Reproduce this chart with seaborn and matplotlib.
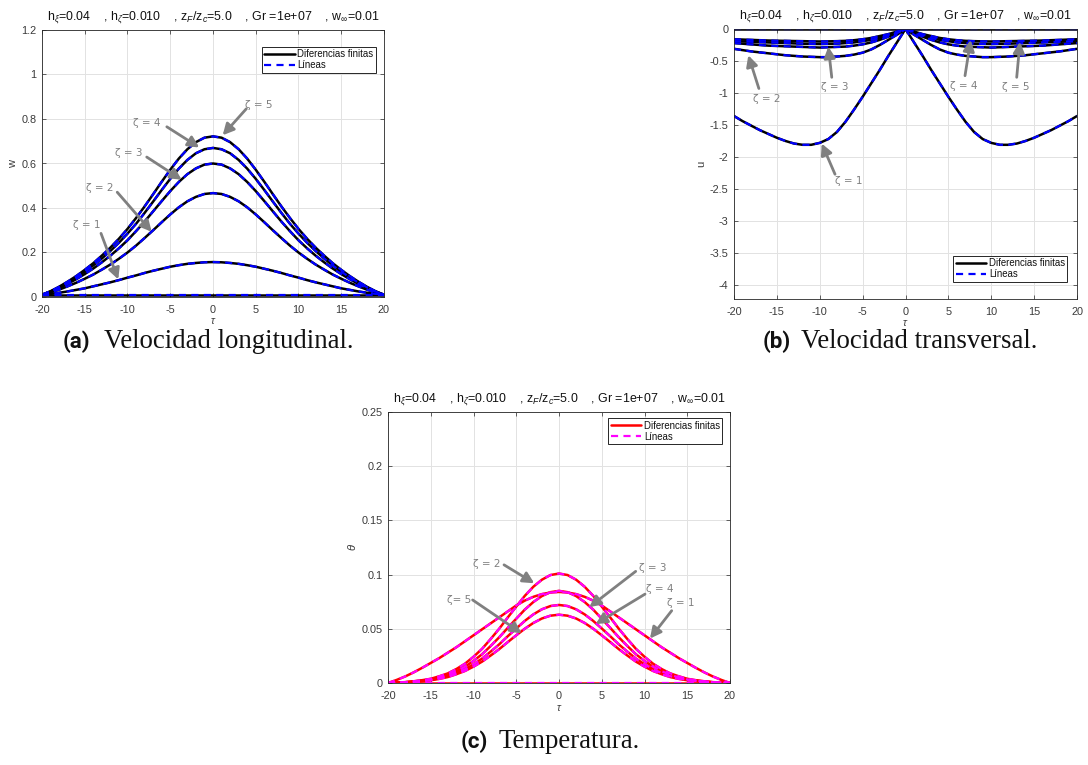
import matplotlib
matplotlib.use("Agg")
import matplotlib.pyplot as plt
import seaborn as sns

# ---------------- data ----------------
tau = [-20, -19, -18, -17, -16, -15, -14, -13, -12, -11, -10, -9, -8, -7, -6, -5, -4, -3, -2, -1,
       0, 1, 2, 3, 4, 5, 6, 7, 8, 9, 10, 11, 12, 13, 14, 15, 16, 17, 18, 19, 20]

# (a) longitudinal velocity w
w_z0 = [0.01] * 41
w_z1 = [0.010, 0.014, 0.019, 0.025, 0.032, 0.039, 0.048, 0.057, 0.066, 0.076, 0.087,
        0.097, 0.108, 0.118, 0.127, 0.136, 0.143, 0.149, 0.153, 0.156, 0.157,
        0.156, 0.153, 0.149, 0.143, 0.136, 0.127, 0.118, 0.108, 0.097, 0.087,
        0.076, 0.066, 0.057, 0.048, 0.039, 0.032, 0.025, 0.019, 0.014, 0.010]
w_z2 = [0.010, 0.021, 0.033, 0.048, 0.064, 0.082, 0.101, 0.123, 0.146, 0.172, 0.200,
        0.231, 0.265, 0.300, 0.336, 0.371, 0.403, 0.430, 0.450, 0.463, 0.467,
        0.463, 0.450, 0.430, 0.403, 0.371, 0.336, 0.300, 0.265, 0.231, 0.200,
        0.172, 0.146, 0.123, 0.101, 0.082, 0.064, 0.048, 0.033, 0.021, 0.010]
w_z3 = [0.010, 0.024, 0.040, 0.059, 0.080, 0.103, 0.128, 0.156, 0.186, 0.219, 0.255,
        0.296, 0.339, 0.385, 0.431, 0.476, 0.517, 0.552, 0.578, 0.595, 0.600,
        0.595, 0.578, 0.552, 0.517, 0.476, 0.431, 0.385, 0.339, 0.296, 0.255,
        0.219, 0.186, 0.156, 0.128, 0.103, 0.080, 0.059, 0.040, 0.024, 0.010]
w_z4 = [0.010, 0.025, 0.044, 0.065, 0.088, 0.114, 0.142, 0.173, 0.207, 0.244, 0.285,
        0.329, 0.378, 0.429, 0.481, 0.531, 0.577, 0.616, 0.646, 0.664, 0.670,
        0.664, 0.646, 0.616, 0.577, 0.531, 0.481, 0.429, 0.378, 0.329, 0.285,
        0.244, 0.207, 0.173, 0.142, 0.114, 0.088, 0.065, 0.044, 0.025, 0.010]
w_z5 = [0.010, 0.026, 0.046, 0.069, 0.094, 0.122, 0.152, 0.186, 0.222, 0.262, 0.306,
        0.355, 0.407, 0.462, 0.518, 0.572, 0.622, 0.664, 0.696, 0.716, 0.722,
        0.716, 0.696, 0.664, 0.622, 0.572, 0.518, 0.462, 0.407, 0.355, 0.306,
        0.262, 0.222, 0.186, 0.152, 0.122, 0.094, 0.069, 0.046, 0.026, 0.010]

# (b) transversal velocity u
u_z0 = [0.0] * 41
u_z1 = [-1.36, -1.44, -1.51, -1.58, -1.64, -1.70, -1.75, -1.79, -1.81, -1.81, -1.78,
        -1.72, -1.61, -1.45, -1.26, -1.06, -0.85, -0.64, -0.42, -0.21, 0.0,
        -0.21, -0.42, -0.64, -0.85, -1.06, -1.26, -1.45, -1.61, -1.72, -1.78,
        -1.81, -1.81, -1.79, -1.75, -1.70, -1.64, -1.58, -1.51, -1.44, -1.36]
u_z2 = [-0.31, -0.33, -0.35, -0.365, -0.38, -0.395, -0.41, -0.42, -0.43, -0.435, -0.44,
        -0.44, -0.43, -0.42, -0.40, -0.37, -0.32, -0.25, -0.17, -0.09, 0.0,
        -0.09, -0.17, -0.25, -0.32, -0.37, -0.40, -0.42, -0.43, -0.44, -0.44,
        -0.435, -0.43, -0.42, -0.41, -0.395, -0.38, -0.365, -0.35, -0.33, -0.31]
u_z3 = [-0.22, -0.23, -0.24, -0.25, -0.26, -0.265, -0.27, -0.275, -0.28, -0.285, -0.29,
        -0.285, -0.28, -0.275, -0.26, -0.24, -0.21, -0.17, -0.12, -0.065, 0.0,
        -0.065, -0.12, -0.17, -0.21, -0.24, -0.26, -0.275, -0.28, -0.285, -0.29,
        -0.285, -0.28, -0.275, -0.27, -0.265, -0.26, -0.25, -0.24, -0.23, -0.22]
u_z4 = [-0.19, -0.195, -0.20, -0.205, -0.21, -0.215, -0.22, -0.225, -0.23, -0.233, -0.235,
        -0.233, -0.23, -0.22, -0.21, -0.19, -0.17, -0.14, -0.10, -0.05, 0.0,
        -0.05, -0.10, -0.14, -0.17, -0.19, -0.21, -0.22, -0.23, -0.233, -0.235,
        -0.233, -0.23, -0.225, -0.22, -0.215, -0.21, -0.205, -0.20, -0.195, -0.19]
u_z5 = [-0.16, -0.165, -0.17, -0.175, -0.18, -0.183, -0.185, -0.188, -0.19, -0.193, -0.195,
        -0.193, -0.19, -0.185, -0.175, -0.16, -0.14, -0.11, -0.08, -0.04, 0.0,
        -0.04, -0.08, -0.11, -0.14, -0.16, -0.175, -0.185, -0.19, -0.193, -0.195,
        -0.193, -0.19, -0.188, -0.185, -0.183, -0.18, -0.175, -0.17, -0.165, -0.16]

# (c) temperature theta
t_z0 = [0.0] * 41
t_z1 = [0.0, 0.0028, 0.006, 0.0098, 0.014, 0.0185, 0.023, 0.028, 0.033, 0.0385, 0.044,
        0.0495, 0.055, 0.0605, 0.066, 0.0715, 0.076, 0.0795, 0.082, 0.0835, 0.084,
        0.0835, 0.082, 0.0795, 0.076, 0.0715, 0.066, 0.0605, 0.055, 0.0495, 0.044,
        0.0385, 0.033, 0.028, 0.023, 0.0185, 0.014, 0.0098, 0.006, 0.0028, 0.0]
t_z2 = [0.0, 0.0004, 0.0008, 0.0016, 0.0026, 0.0039, 0.0062, 0.0089, 0.0129, 0.0178, 0.0242,
        0.0315, 0.0405, 0.0500, 0.0604, 0.0705, 0.0804, 0.0888, 0.0953, 0.0996, 0.1010,
        0.0996, 0.0953, 0.0888, 0.0804, 0.0705, 0.0604, 0.0500, 0.0405, 0.0315, 0.0242,
        0.0178, 0.0129, 0.0089, 0.0062, 0.0039, 0.0026, 0.0016, 0.0008, 0.0004, 0.0]
t_z3 = [0.0, 0.0003, 0.0007, 0.0014, 0.0022, 0.0033, 0.0052, 0.0075, 0.0109, 0.0150, 0.0204,
        0.0265, 0.0341, 0.0421, 0.0508, 0.0593, 0.0677, 0.0747, 0.0802, 0.0838, 0.0850,
        0.0838, 0.0802, 0.0747, 0.0677, 0.0593, 0.0508, 0.0421, 0.0341, 0.0265, 0.0204,
        0.0150, 0.0109, 0.0075, 0.0052, 0.0033, 0.0022, 0.0014, 0.0007, 0.0003, 0.0]
t_z4 = [0.0, 0.0003, 0.0006, 0.0012, 0.0019, 0.0028, 0.0044, 0.0063, 0.0092, 0.0127, 0.0173,
        0.0225, 0.0289, 0.0356, 0.0431, 0.0503, 0.0573, 0.0633, 0.0680, 0.0710, 0.0720,
        0.0710, 0.0680, 0.0633, 0.0573, 0.0503, 0.0431, 0.0356, 0.0289, 0.0225, 0.0173,
        0.0127, 0.0092, 0.0063, 0.0044, 0.0028, 0.0019, 0.0012, 0.0006, 0.0003, 0.0]
t_z5 = [0.0, 0.0002, 0.0005, 0.0010, 0.0016, 0.0025, 0.0038, 0.0055, 0.0081, 0.0111, 0.0151,
        0.0197, 0.0253, 0.0312, 0.0377, 0.0440, 0.0501, 0.0554, 0.0595, 0.0621, 0.0630,
        0.0621, 0.0595, 0.0554, 0.0501, 0.0440, 0.0377, 0.0312, 0.0253, 0.0197, 0.0151,
        0.0111, 0.0081, 0.0055, 0.0038, 0.0025, 0.0016, 0.0010, 0.0005, 0.0002, 0.0]

x_ticks = [-20, -15, -10, -5, 0, 5, 10, 15, 20]
x_ticklabels = ["-20", "-15", "-10", "-5", "0", "5", "10", "15", "20"]
w_ticks = [0, 0.2, 0.4, 0.6, 0.8, 1.0, 1.2]
w_ticklabels = ["0", "0.2", "0.4", "0.6", "0.8", "1", "1.2"]
u_ticks = [0, -0.5, -1, -1.5, -2, -2.5, -3, -3.5, -4]
u_ticklabels = ["0", "-0.5", "-1", "-1.5", "-2", "-2.5", "-3", "-3.5", "-4"]
t_ticks = [0, 0.05, 0.1, 0.15, 0.2, 0.25]
t_ticklabels = ["0", "0.05", "0.1", "0.15", "0.2", "0.25"]

legend_labels = ["Diferencias finitas", "Líneas"]
title_txt = (r"h$_\xi$=0.04    , h$_\zeta$=0.010    , z$_F$/z$_c$=5.0    , "
             r"Gr =1e+07    , w$_\infty$=0.01")

# annotations: (label, label_xy, arrow_start, arrow_tip)
ann_a = [("ζ = 5", (5.3, 0.865), (3.9, 0.846), (1.13, 0.727)),
         ("ζ = 4", (-7.7, 0.78), (-5.4, 0.765), (-1.6, 0.672)),
         ("ζ = 3", (-9.9, 0.645), (-7.75, 0.629), (-3.66, 0.527)),
         ("ζ = 2", (-13.3, 0.49), (-11.2, 0.471), (-7.17, 0.293)),
         ("ζ = 1", (-14.8, 0.323), (-13.1, 0.286), (-11.08, 0.079))]
ann_b = [("ζ = 2", (-16.2, -1.10), (-17.1, -0.93), (-18.33, -0.41)),
         ("ζ = 3", (-8.3, -0.91), (-8.6, -0.755), (-9.0, -0.277)),
         ("ζ = 4", (6.8, -0.89), (6.94, -0.73), (7.6, -0.17)),
         ("ζ = 5", (12.9, -0.91), (12.97, -0.755), (13.35, -0.2)),
         ("ζ = 1", (-6.6, -2.37), (-8.22, -2.27), (-9.77, -1.79))]
ann_c = [("ζ = 2", (-8.46, 0.110), (-6.43, 0.109), (-2.89, 0.092)),
         ("ζ = 3", (11.0, 0.106), (8.97, 0.103), (3.55, 0.070)),
         ("ζ = 4", (11.74, 0.0864), (10.06, 0.082), (4.29, 0.0544)),
         ("ζ = 1", (14.23, 0.0735), (13.18, 0.0667), (10.64, 0.041)),
         ("ζ= 5", (-11.7, 0.077), (-10.1, 0.0766), (-4.36, 0.0458))]

# ---------------- style ----------------
sns.set_theme(style="whitegrid")
plt.rcParams["font.family"] = ["Liberation Sans", "DejaVu Sans"]
plt.rcParams["mathtext.fontset"] = "custom"
plt.rcParams["mathtext.rm"] = "Liberation Sans"
plt.rcParams["mathtext.it"] = "Liberation Sans:italic"
plt.rcParams["mathtext.bf"] = "Liberation Sans:bold"

AX_COL = "#262626"
TXT_COL = "#3a3a3a"
GRID_COL = "#e2e2e2"
ANN_COL = "#808080"

fig = plt.figure(figsize=(10.88, 7.65), dpi=100)
fig.patch.set_facecolor("white")


def draw_panel(rect, curves, solid_col, dash_col, ylim, yticks, yticklabels,
               ylabel, ylab_x, xlab_y, legend_loc, legend_anchor, anns):
    ax = fig.add_axes(rect)
    ax.set_facecolor("white")
    solid, dashed = [], []
    for ys in curves:
        sns.lineplot(x=tau, y=ys, ax=ax, color=solid_col, lw=1.8,
                     estimator=None, sort=False, legend=False)
        solid.append(ax.get_lines()[-1])
    for ys in curves:
        sns.lineplot(x=tau, y=ys, ax=ax, color=dash_col, lw=1.6,
                     estimator=None, sort=False, legend=False)
        ln = ax.get_lines()[-1]
        ln.set_linestyle((0, (3.2, 2.4)))
        dashed.append(ln)
    ax.set_xlim(-20, 20)
    ax.set_ylim(*ylim)
    ax.set_xticks(x_ticks)
    ax.set_xticklabels(x_ticklabels)
    ax.set_yticks(yticks)
    ax.set_yticklabels(yticklabels)
    ax.grid(True, color=GRID_COL, lw=0.7)
    for sp in ax.spines.values():
        sp.set_visible(True)
        sp.set_color(AX_COL)
        sp.set_linewidth(0.6)
    ax.tick_params(direction="in", length=3, width=0.5, color=AX_COL,
                   labelcolor=TXT_COL, labelsize=7.8, top=True, right=True,
                   bottom=True, left=True)
    ax.tick_params(axis="x", pad=6)
    ax.tick_params(axis="y", pad=4)
    ax.set_xlabel(r"$\tau$", fontsize=7.5, color=TXT_COL)
    ax.xaxis.set_label_coords(0.5, xlab_y)
    ax.set_ylabel(ylabel, fontsize=8, color=TXT_COL)
    ax.yaxis.set_label_coords(ylab_x, 0.5)
    ax.set_title(title_txt, fontsize=8.9, color="#111111", pad=7.5)
    leg = ax.legend([solid[0], dashed[0]], legend_labels, loc=legend_loc,
                    bbox_to_anchor=legend_anchor, fontsize=6.9, frameon=True,
                    fancybox=False, framealpha=1, edgecolor=AX_COL,
                    handlelength=3.2, handletextpad=0.25, labelspacing=0.12,
                    borderpad=0.25, borderaxespad=0)
    leg.get_frame().set_linewidth(0.7)
    for t in leg.get_texts():
        t.set_color("#111111")
    for lab, lxy, sxy, txy in anns:
        ax.text(lxy[0], lxy[1], lab, color=ANN_COL, fontsize=7.5,
                family="DejaVu Sans", ha="center", va="center")
        ax.annotate("", xy=txy, xytext=sxy,
                    arrowprops=dict(arrowstyle="-|>,head_length=0.55,head_width=0.28",
                                    color=ANN_COL, lw=2, shrinkA=0, shrinkB=0,
                                    mutation_scale=12))
    return ax


W = 1088.0
H = 765.0


def rect(l, r, t, b):
    return [l / W, 1 - b / H, (r - l) / W, (b - t) / H]


draw_panel(rect(42, 384, 30, 297), [w_z0, w_z1, w_z2, w_z3, w_z4, w_z5],
           "black", "#0000ff", (0, 1.2), w_ticks, w_ticklabels, "w",
           -0.07, -0.07, "upper right", (0.9757, 0.9375), ann_a)
draw_panel(rect(734, 1077, 29, 299), [u_z0, u_z1, u_z2, u_z3, u_z4, u_z5],
           "black", "#0000ff", (-4.22, 0), u_ticks, u_ticklabels, "u",
           -0.082, -0.07, "lower right", (0.9718, 0.064), ann_b)
draw_panel(rect(388, 730, 412, 683), [t_z0, t_z1, t_z2, t_z3, t_z4, t_z5],
           "#ff0000", "#ff00ff", (0, 0.25), t_ticks, t_ticklabels, r"$\theta$",
           -0.088, -0.075, "upper right", (0.9775, 0.977), ann_c)

# captions
cap_bold = dict(family=["Roboto", "DejaVu Sans"], weight="bold", fontsize=16,
                color="#111111", va="baseline", ha="left")
cap_serif = dict(family=["Liberation Serif", "DejaVu Serif"], fontsize=19.3,
                 color="#111111", va="baseline", ha="left")
fig.text(63 / W, 1 - 348 / H, "(a)", **cap_bold)
fig.text(104 / W, 1 - 348 / H, "Velocidad longitudinal.", **cap_serif)
fig.text(763 / W, 1 - 348 / H, "(b)", **cap_bold)
fig.text(801 / W, 1 - 348 / H, "Velocidad transversal.", **cap_serif)
fig.text(461 / W, 1 - 748 / H, "(c)", **cap_bold)
fig.text(499 / W, 1 - 748 / H, "Temperatura.", **cap_serif)

fig.savefig("out.png", dpi=100, facecolor="white")
